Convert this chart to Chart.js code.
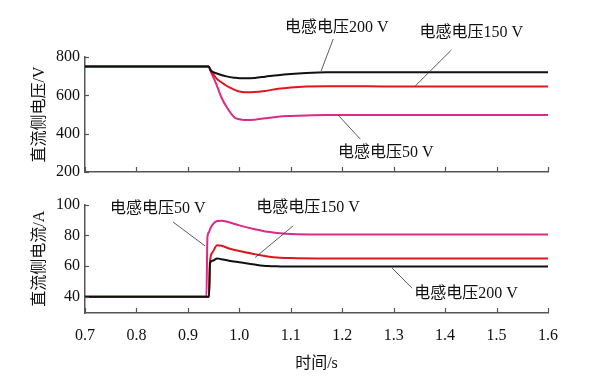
<!DOCTYPE html>
<html lang="zh">
<head>
<meta charset="UTF-8">
<title>直流侧电压与电流</title>
<script src="https://cdn.jsdelivr.net/npm/chart.js"></script>
<style>
  body { margin: 0; background: #fff; }
  #wrap { position: relative; width: 599px; height: 378px; background: #fff; }
  canvas { position: absolute; left: 0; }
  #voltChart { top: 0; }
  #currChart { top: 190px; }
</style>
</head>
<body>
<div id="wrap">
  <canvas id="voltChart" width="599" height="190"></canvas>
  <canvas id="currChart" width="599" height="188"></canvas>
</div>
<script>
// time axis, shared by both panels
const xTicks = [0.7, 0.8, 0.9, 1.0, 1.1, 1.2, 1.3, 1.4, 1.5, 1.6];
const voltTicks = [200, 400, 600, 800];
const currTicks = [40, 60, 80, 100];

// DC side voltage (V)
const timeV   = [0.70, 0.94, 0.945, 0.955, 0.965, 0.975, 0.99, 1.00, 1.01, 1.03, 1.05, 1.075, 1.10, 1.13, 1.17, 1.25, 1.35, 1.45, 1.60];
const volt200 = [750, 750, 728, 715, 706, 699, 692, 689, 689, 691, 697, 705, 711, 716, 720, 721, 721, 721, 721];
const volt150 = [750, 750, 728, 690, 668, 650, 630, 620, 616, 617, 623, 634, 641, 646, 648, 647, 646, 646, 646];
const volt50  = [750, 750, 720, 660, 590, 540, 486, 475, 471, 473, 480, 488, 492, 495, 497, 497, 497, 497, 497];

// DC side current (A)
const timeI   = [0.70, 0.936, 0.938, 0.941, 0.943, 0.948, 0.957, 0.965, 0.98, 1.00, 1.03, 1.055, 1.08, 1.10, 1.15, 1.30, 1.60];
const curr200 = [40, 40, 40, 40, 62, 63.5, 65, 64.5, 63.5, 62.5, 61, 60, 59.8, 59.7, 59.7, 59.7, 59.7];
const curr150 = [40, 40, 40, 40, 63, 69, 73.5, 73.2, 71.5, 69.8, 67.8, 66.3, 65.5, 65.2, 65, 65, 65];
const curr50  = [40, 40, 79, 82, 84, 87, 89.3, 89.5, 88.5, 86.5, 84, 82.3, 81.3, 80.8, 80.5, 80.5, 80.5];

// callouts: text anchor and leader line, in data units
const voltNotes = [
  { text: '电感电压200 V', at: [1.089, 951], from: [1.1825, 894], to: [1.159, 727] },
  { text: '电感电压150 V', at: [1.350, 925], from: [1.412, 836], to: [1.342, 649] },
  { text: '电感电压50 V',  at: [1.192, 299], from: [1.235, 372], to: [1.192, 497] }
];
const currNotes = [
  { text: '电感电压50 V',  at: [0.7486, 97.5], from: [0.871, 88.7], to: [0.9335, 73.1] },
  { text: '电感电压150 V', at: [1.0327, 98.1], from: [1.1047, 86.2], to: [1.0307, 65.6] },
  { text: '电感电压200 V', at: [1.340, 41.9], from: [1.297, 58.7], to: [1.336, 45.6] }
];

const FONT = "'Liberation Serif', 'Noto Sans CJK SC', serif";
const AXIS = '#555';
const BLACK = '#111111', RED = '#e0161e', PINK = '#dc2a86';

const toPoints = (ts, ys) => ts.map((t, i) => ({ x: t, y: ys[i] }));

function series(ts, ys, color) {
  return {
    data: toPoints(ts, ys),
    borderColor: color,
    borderWidth: 2,
    pointRadius: 0,
    fill: false,
    cubicInterpolationMode: 'monotone'
  };
}

// inward tick marks and the callout labels
const decor = {
  id: 'decor',
  afterDraw(chart, args, opts) {
    const { ctx, chartArea: a, scales: { x, y } } = chart;
    ctx.save();
    ctx.strokeStyle = AXIS;
    ctx.lineWidth = 1.2;
    xTicks.forEach(v => {
      const px = Math.round(x.getPixelForValue(v)) + 0.5;
      ctx.beginPath();
      ctx.moveTo(px, a.bottom);
      ctx.lineTo(px, a.bottom - 5);
      ctx.stroke();
    });
    opts.yTicks.forEach(v => {
      const py = Math.round(y.getPixelForValue(v)) + 0.5;
      ctx.beginPath();
      ctx.moveTo(a.left, py);
      ctx.lineTo(a.left + 4, py);
      ctx.stroke();
    });

    ctx.strokeStyle = '#333';
    ctx.lineWidth = 0.8;
    ctx.fillStyle = '#111';
    ctx.font = '16px ' + FONT;
    ctx.textAlign = 'left';
    ctx.textBaseline = 'middle';
    opts.notes.forEach(n => {
      ctx.beginPath();
      ctx.moveTo(x.getPixelForValue(n.from[0]), y.getPixelForValue(n.from[1]));
      ctx.lineTo(x.getPixelForValue(n.to[0]), y.getPixelForValue(n.to[1]));
      ctx.stroke();
      ctx.fillText(n.text, x.getPixelForValue(n.at[0]), y.getPixelForValue(n.at[1]));
    });
    ctx.restore();
  }
};

function makeChart(id, cfg) {
  return new Chart(document.getElementById(id), {
    type: 'line',
    data: { datasets: cfg.datasets },
    options: {
      responsive: false,
      animation: false,
      layout: { padding: cfg.padding },
      plugins: {
        legend: { display: false },
        tooltip: { enabled: false },
        decor: { yTicks: cfg.yTicks, notes: cfg.notes }
      },
      scales: {
        x: {
          type: 'linear',
          min: 0.7,
          max: 1.6,
          afterBuildTicks: s => { s.ticks = xTicks.map(v => ({ value: v })); },
          afterFit: s => { s.height = cfg.xHeight; },
          grid: { display: true, drawOnChartArea: false, drawTicks: false },
          border: { display: true, color: AXIS, width: 1.5 },
          ticks: {
            display: cfg.showX,
            padding: 13,
            color: '#111',
            font: { family: FONT, size: 16 },
            callback: v => v.toFixed(1)
          },
          title: {
            display: cfg.showX,
            text: '时间/s',
            color: '#111',
            font: { family: FONT, size: 16 },
            padding: { top: 0, bottom: 5 }
          }
        },
        y: {
          min: cfg.yMin,
          max: cfg.yMax,
          afterBuildTicks: s => { s.ticks = cfg.yTicks.map(v => ({ value: v })); },
          afterFit: s => { s.width = 85; },
          grid: { display: true, drawOnChartArea: false, drawTicks: false },
          border: { display: true, color: AXIS, width: 1.5 },
          ticks: {
            padding: 5,
            color: '#111',
            font: { family: FONT, size: 16 }
          },
          title: {
            display: true,
            text: cfg.yTitle,
            color: '#111',
            font: { family: FONT, size: 16 },
            padding: { top: 30, bottom: 0 }
          }
        }
      }
    },
    plugins: [decor]
  });
}

// first dataset is painted on top, so black goes first
makeChart('voltChart', {
  datasets: [
    series(timeV, volt200, BLACK),
    series(timeV, volt150, RED),
    series(timeV, volt50, PINK)
  ],
  padding: { top: 57, right: 51, bottom: 18, left: 0 },
  xHeight: 0,
  showX: false,
  yMin: 200,
  yMax: 800,
  yTicks: voltTicks,
  yTitle: '直流侧电压/V',
  notes: voltNotes
});

makeChart('currChart', {
  datasets: [
    series(timeI, curr200, BLACK),
    series(timeI, curr150, RED),
    series(timeI, curr50, PINK)
  ],
  padding: { top: 10, right: 51, bottom: 0, left: 0 },
  xHeight: 65,
  showX: true,
  yMin: 29.5,
  yMax: 100,
  yTicks: currTicks,
  yTitle: '直流侧电流/A',
  notes: currNotes
});
</script>
</body>
</html>
